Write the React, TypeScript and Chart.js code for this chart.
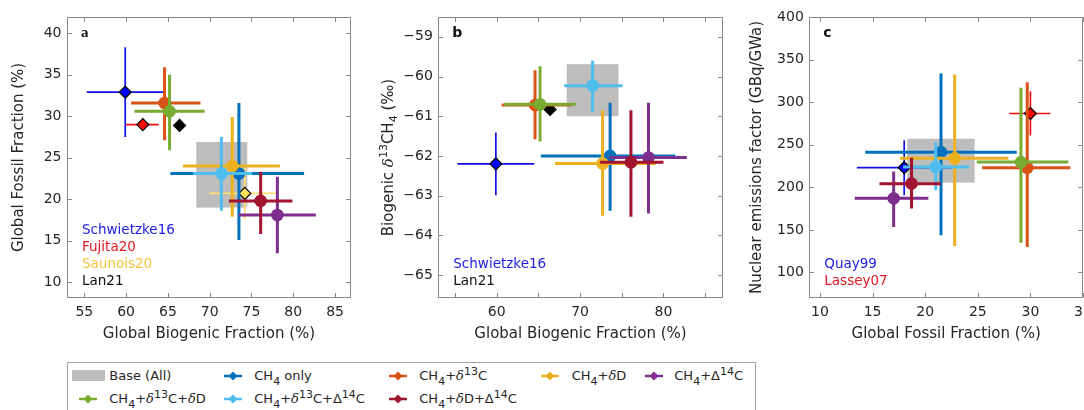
import React, { useEffect, useRef } from "react";
import { Chart, registerables } from "chart.js";

Chart.register(...registerables);

// ---------- shared series ----------
const seriesNames = ["CH4 only", "CH4+δ13C", "CH4+δD", "CH4+Δ14C", "CH4+δ13C+δD", "CH4+δ13C+Δ14C", "CH4+δD+Δ14C"];
const seriesColors = ["#0072BD", "#D95319", "#EDB120", "#7E2F8E", "#77AC30", "#4DBEEE", "#A2142F"];
const baseLabel = "Base (All)";
const baseColor = "#bdbdbd";

// ---------- panel a: biogenic (x) vs fossil (y) ----------
const aBio = [73.5, 64.6, 72.7, 78.1, 65.2, 71.4, 76.1];
const aBioLo = [65.3, 60.6, 66.8, 73.5, 61.0, 68.0, 72.3];
const aBioHi = [81.3, 68.9, 78.4, 82.7, 69.4, 75.1, 79.9];
const aFos = [23.1, 31.6, 24.0, 18.1, 30.6, 23.1, 19.8];
const aFosLo = [15.1, 27.1, 17.9, 13.5, 25.9, 18.6, 15.8];
const aFosHi = [31.6, 35.9, 29.9, 22.7, 35.0, 27.5, 23.3];
const aBase = [68.4, 74.5, 19.0, 26.9];
const aRefNames = ["Schwietzke16", "Fujita20", "Saunois20", "Lan21"];
const aRefText = ["#1d1de0", "#e0161e", "#f4c640", "#111111"];
const aRefFill = ["#0000ff", "#ff0000", "#ffe258", "#000000"];
const aRefBar = ["#1010e8", "#f01010", "#ffe070", "#000000"];
const aRefBio = [59.9, 62.0, 74.2, 66.4];
const aRefBioLo = [55.3, 60.0, 70.0, 66.4];
const aRefBioHi = [64.5, 63.9, 78.0, 66.4];
const aRefFos = [32.9, 29.0, 20.7, 28.9];
const aRefFosLo = [27.5, 28.4, 17.6, 28.9];
const aRefFosHi = [38.3, 29.7, 23.8, 28.9];
const aXTicks = [55, 60, 65, 70, 75, 80, 85];
const aXTickLabels = ["55", "60", "65", "70", "75", "80", "85"];
const aYTicks = [10, 15, 20, 25, 30, 35, 40];
const aYTickLabels = ["10", "15", "20", "25", "30", "35", "40"];

// ---------- panel b: biogenic (x) vs biogenic d13C (y) ----------
const bBio = [73.6, 64.6, 72.7, 78.2, 65.2, 71.5, 76.1];
const bBioLo = [65.3, 60.6, 67.0, 73.5, 60.9, 68.1, 72.4];
const bBioHi = [81.4, 68.9, 79.1, 82.8, 69.5, 75.1, 80.0];
const bD13 = [-62.0, -60.72, -62.19, -62.04, -60.7, -60.23, -62.16];
const bD13Lo = [-63.38, -61.58, -63.51, -63.45, -61.64, -60.89, -63.53];
const bD13Hi = [-60.66, -59.84, -60.85, -60.66, -59.74, -59.6, -60.85];
const bBase = [68.4, 74.6, -61.0, -59.69];
const bRefNames = ["Schwietzke16", "Lan21"];
const bRefText = ["#1d1de0", "#111111"];
const bRefFill = ["#0000ff", "#000000"];
const bRefBar = ["#1010e8", "#000000"];
const bRefBio = [59.9, 66.4];
const bRefBioLo = [55.3, 66.4];
const bRefBioHi = [64.5, 66.4];
const bRefD13 = [-62.2, -60.83];
const bRefD13Lo = [-62.99, -60.83];
const bRefD13Hi = [-61.41, -60.83];
const bXTicks = [55, 60, 65, 70, 75, 80, 85];
const bXTickLabels = ["", "60", "", "70", "", "80", ""];
const bYTicks = [-65, -64, -63, -62, -61, -60, -59];
const bYTickLabels = ["−65", "−64", "−63", "−62", "−61", "−60", "−59"];
// y title pieces: [text, style] where style: n normal, i italic, sup, sub
const bYTitleParts: [string, string][] = [["Biogenic ", "n"], ["δ", "i"], ["13", "sup"], ["CH", "n"], ["4", "sub"], [" (‰)", "n"]];

// ---------- panel c: fossil (x) vs nuclear emissions factor (y) ----------
const cFos = [21.5, 29.7, 22.8, 17.0, 29.1, 21.0, 18.7];
const cFosLo = [14.3, 25.4, 17.6, 13.3, 24.9, 17.9, 15.65];
const cFosHi = [28.7, 33.8, 27.9, 20.3, 33.6, 24.2, 21.5];
const cNuc = [241.3, 223, 234, 187, 229.6, 223.8, 204.3];
const cNucLo = [143.7, 130, 131, 153.4, 135, 196.4, 175];
const cNucHi = [333.6, 323.4, 332.4, 218.7, 316.8, 253, 234.7];
const cBase = [18.3, 24.7, 205.5, 257];
const cRefNames = ["Quay99", "Lassey07"];
const cRefText = ["#1d1de0", "#e0161e"];
const cRefFill = ["#0000ff", "#ff0000"];
const cRefBar = ["#1010e8", "#f01010"];
const cRefFos = [18.0, 30.0];
const cRefFosLo = [13.5, 28.0];
const cRefFosHi = [22.5, 31.9];
const cRefNuc = [223, 286.7];
const cRefNucLo = [190.6, 260.9];
const cRefNucHi = [255.4, 312.8];
const cXTicks = [10, 15, 20, 25, 30, 35];
const cXTickLabels = ["10", "15", "20", "25", "30", "35"];
const cYTicks = [100, 150, 200, 250, 300, 350, 400];
const cYTickLabels = ["100", "150", "200", "250", "300", "350", "400"];

const FONT = '"DejaVu Sans", sans-serif';
const TEXT = "#262626";
const FRAME = "#8a8a8a";

interface Panel {
  left: number; width: number; axisW: number; rightPad: number;
  xMin: number; xMax: number; yMin: number; yMax: number;
  xTicks: number[]; xTickLabels: string[]; yTicks: number[]; yTickLabels: string[];
  xTitle: string; yTitle: string; yTitlePad: number; yTitleParts?: [string, string][];
  mx: number[]; mxLo: number[]; mxHi: number[]; my: number[]; myLo: number[]; myHi: number[];
  rx: number[]; rxLo: number[]; rxHi: number[]; ry: number[]; ryLo: number[]; ryHi: number[];
  rNames: string[]; rText: string[]; rFill: string[]; rBar: string[];
  base: number[]; letter: string; letterFont: string;
}

const panels: Panel[] = [
  {
    left: 0, width: 360, axisW: 67, rightPad: 9,
    xMin: 52.93, xMax: 86.91, yMin: 8.1, yMax: 41.96,
    xTicks: aXTicks, xTickLabels: aXTickLabels, yTicks: aYTicks, yTickLabels: aYTickLabels,
    xTitle: "Global Biogenic Fraction (%)", yTitle: "Global Fossil Fraction (%)", yTitlePad: 10,
    mx: aBio, mxLo: aBioLo, mxHi: aBioHi, my: aFos, myLo: aFosLo, myHi: aFosHi,
    rx: aRefBio, rxLo: aRefBioLo, rxHi: aRefBioHi, ry: aRefFos, ryLo: aRefFosLo, ryHi: aRefFosHi,
    rNames: aRefNames, rText: aRefText, rFill: aRefFill, rBar: aRefBar,
    base: aBase, letter: "a", letterFont: 'bold 15px "Liberation Serif", serif',
  },
  {
    left: 360, width: 364, axisW: 78.3, rightPad: 1.3,
    xMin: 53, xMax: 87.1, yMin: -65.58, yMax: -58.5,
    xTicks: bXTicks, xTickLabels: bXTickLabels, yTicks: bYTicks, yTickLabels: bYTickLabels,
    xTitle: "Global Biogenic Fraction (%)", yTitle: "Biogenic δ13CH4 (‰)", yTitlePad: 20,
    yTitleParts: bYTitleParts,
    mx: bBio, mxLo: bBioLo, mxHi: bBioHi, my: bD13, myLo: bD13Lo, myHi: bD13Hi,
    rx: bRefBio, rxLo: bRefBioLo, rxHi: bRefBioHi, ry: bRefD13, ryLo: bRefD13Lo, ryHi: bRefD13Hi,
    rNames: bRefNames, rText: bRefText, rFill: bRefFill, rBar: bRefBar,
    base: bBase, letter: "b", letterFont: 'bold 14px "DejaVu Sans", sans-serif',
  },
  {
    left: 724, width: 360, axisW: 85.3, rightPad: 1,
    xMin: 8.98, xMax: 35, yMin: 70, yMax: 400,
    xTicks: cXTicks, xTickLabels: cXTickLabels, yTicks: cYTicks, yTickLabels: cYTickLabels,
    xTitle: "Global Fossil Fraction (%)", yTitle: "Nuclear emissions factor (GBq/GWa)", yTitlePad: 24.5,
    mx: cFos, mxLo: cFosLo, mxHi: cFosHi, my: cNuc, myLo: cNucLo, myHi: cNucHi,
    rx: cRefFos, rxLo: cRefFosLo, rxHi: cRefFosHi, ry: cRefNuc, ryLo: cRefNucLo, ryHi: cRefNucHi,
    rNames: cRefNames, rText: cRefText, rFill: cRefFill, rBar: cRefBar,
    base: cBase, letter: "c", letterFont: 'bold 14px "DejaVu Sans", sans-serif',
  },
];

const errorBarPlugin = {
  id: "errbars",
  beforeDatasetDraw(chart: any, args: any) {
    const ds: any = chart.data.datasets[args.index];
    if (!ds.err) return;
    const { ctx } = chart;
    const xs = chart.scales.x, ys = chart.scales.y;
    ctx.save();
    ctx.strokeStyle = ds.errColor;
    ctx.lineWidth = ds.errWidth;
    ctx.lineCap = "butt";
    ds.data.forEach((p: any, i: number) => {
      const [xl, xh, yl, yh] = ds.err[i];
      const px = xs.getPixelForValue(p.x), py = ys.getPixelForValue(p.y);
      ctx.beginPath();
      if (xl !== xh) { ctx.moveTo(xs.getPixelForValue(xl), py); ctx.lineTo(xs.getPixelForValue(xh), py); }
      if (yl !== yh) { ctx.moveTo(px, ys.getPixelForValue(yl)); ctx.lineTo(px, ys.getPixelForValue(yh)); }
      ctx.stroke();
    });
    ctx.restore();
  },
};

function partFont(style: string) {
  if (style === "i") return `italic 15px "DejaVu Serif", serif`;
  if (style === "sup" || style === "sub") return `11px ${FONT}`;
  return `15px ${FONT}`;
}

function framePlugin(p: Panel) {
  return {
    id: "frame",
    beforeDatasetsDraw(chart: any) {
      const { ctx, chartArea: ca } = chart;
      const xs = chart.scales.x, ys = chart.scales.y;
      ctx.save();
      const bx0 = xs.getPixelForValue(p.base[0]), bx1 = xs.getPixelForValue(p.base[1]);
      const by0 = ys.getPixelForValue(p.base[2]), by1 = ys.getPixelForValue(p.base[3]);
      ctx.fillStyle = baseColor;
      ctx.fillRect(bx0, by1, bx1 - bx0, by0 - by1);
      ctx.strokeStyle = FRAME;
      ctx.lineWidth = 1;
      const L = Math.round(ca.left) + 0.5, R = Math.round(ca.right) - 0.5;
      const T = Math.round(ca.top) + 0.5, B = Math.round(ca.bottom) - 0.5;
      ctx.strokeRect(L, T, R - L, B - T);
      const tl = 4.5;
      ctx.beginPath();
      xs.ticks.forEach((t: any) => {
        const x = Math.round(xs.getPixelForValue(t.value)) + 0.5;
        ctx.moveTo(x, B); ctx.lineTo(x, B - tl);
        ctx.moveTo(x, T); ctx.lineTo(x, T + tl);
      });
      ys.ticks.forEach((t: any) => {
        const y = Math.round(ys.getPixelForValue(t.value)) + 0.5;
        ctx.moveTo(L, y); ctx.lineTo(L + tl, y);
        ctx.moveTo(R, y); ctx.lineTo(R - tl, y);
      });
      ctx.stroke();
      ctx.restore();
    },
    afterDatasetsDraw(chart: any) {
      const { ctx, chartArea: ca } = chart;
      ctx.save();
      ctx.textBaseline = "middle";
      ctx.textAlign = "left";
      ctx.fillStyle = "#111";
      ctx.font = p.letterFont;
      ctx.fillText(p.letter, ca.left + 14, ca.top + 16);
      ctx.font = `13.5px ${FONT}`;
      const n = p.rNames.length;
      p.rNames.forEach((name, i) => {
        ctx.fillStyle = p.rText[i];
        ctx.fillText(name, ca.left + 15, ca.bottom - 17 - (n - 1 - i) * 16.7);
      });
      ctx.restore();
      // rich rotated y title
      if (p.yTitleParts) {
        ctx.save();
        let total = 0;
        const widths = p.yTitleParts.map(([t, st]) => {
          ctx.font = partFont(st);
          const w = ctx.measureText(t).width;
          total += w;
          return w;
        });
        const cx = 9 + p.yTitlePad;
        const cy = (ca.top + ca.bottom) / 2;
        ctx.translate(cx, cy);
        ctx.rotate(-Math.PI / 2);
        ctx.fillStyle = TEXT;
        ctx.textBaseline = "middle";
        ctx.textAlign = "left";
        let x = -total / 2;
        p.yTitleParts.forEach(([t, st], i) => {
          ctx.font = partFont(st);
          const dy = st === "sup" ? -5 : st === "sub" ? 5 : 0;
          ctx.fillText(t, x, dy);
          x += widths[i];
        });
        ctx.restore();
      }
    },
  };
}

function buildConfig(p: Panel): any {
  const datasets: any[] = [];
  p.rNames.forEach((name, i) => {
    datasets.push({
      label: name,
      data: [{ x: p.rx[i], y: p.ry[i] }],
      pointStyle: "rectRot",
      pointRadius: 6,
      pointHoverRadius: 6,
      pointBackgroundColor: p.rFill[i],
      pointBorderColor: "#000",
      pointBorderWidth: 1.2,
      showLine: false,
      err: [[p.rxLo[i], p.rxHi[i], p.ryLo[i], p.ryHi[i]]],
      errColor: p.rBar[i],
      errWidth: 1.7,
    });
  });
  seriesNames.forEach((name, i) => {
    datasets.push({
      label: name,
      data: [{ x: p.mx[i], y: p.my[i] }],
      pointStyle: "circle",
      pointRadius: 6.3,
      pointHoverRadius: 6.3,
      pointBackgroundColor: seriesColors[i],
      pointBorderWidth: 0,
      showLine: false,
      err: [[p.mxLo[i], p.mxHi[i], p.myLo[i], p.myHi[i]]],
      errColor: seriesColors[i],
      errWidth: 3,
    });
  });
  datasets.forEach((d, i) => (d.order = datasets.length - i));

  const tickFont = { family: FONT, size: 14 };
  const titleFont = { family: FONT, size: 15 };
  return {
    type: "scatter",
    data: { datasets },
    options: {
      animation: false,
      responsive: false,
      events: [],
      layout: { autoPadding: false, padding: { left: 0, right: p.rightPad, top: 17, bottom: 0 } },
      plugins: { legend: { display: false }, tooltip: { enabled: false } },
      scales: {
        x: {
          type: "linear",
          min: p.xMin,
          max: p.xMax,
          afterBuildTicks: (s: any) => { s.ticks = p.xTicks.map((v) => ({ value: v })); },
          afterFit: (s: any) => { s.height = 52; s.paddingLeft = 0; s.paddingRight = 0; },
          grid: { display: false, drawTicks: false },
          border: { display: false },
          ticks: {
            font: tickFont, color: TEXT, padding: 6, maxRotation: 0, autoSkip: false,
            callback: (_v: any, i: number) => p.xTickLabels[i],
          },
          title: { display: true, text: p.xTitle, font: titleFont, color: TEXT, padding: { top: 0, bottom: 7 } },
        },
        y: {
          type: "linear",
          min: p.yMin,
          max: p.yMax,
          afterBuildTicks: (s: any) => { s.ticks = p.yTicks.map((v) => ({ value: v })); },
          afterFit: (s: any) => { s.width = p.axisW; s.paddingTop = 0; s.paddingBottom = 0; },
          grid: { display: false, drawTicks: false },
          border: { display: false },
          ticks: {
            font: tickFont, color: TEXT, padding: 5.5, autoSkip: false,
            callback: (_v: any, i: number) => p.yTickLabels[i],
          },
          title: {
            display: !p.yTitleParts, text: p.yTitle, font: titleFont, color: TEXT,
            padding: { top: p.yTitlePad, bottom: 0 },
          },
        },
      },
    },
    plugins: [errorBarPlugin, framePlugin(p)],
  };
}

function PanelChart({ p }: { p: Panel }) {
  const ref = useRef<HTMLCanvasElement | null>(null);
  useEffect(() => {
    if (!ref.current) return;
    const chart = new Chart(ref.current, buildConfig(p));
    return () => chart.destroy();
  }, [p]);
  return (
    <canvas
      ref={ref}
      width={p.width}
      height={350}
      style={{ position: "absolute", left: p.left, top: 0, width: p.width, height: 350 }}
    />
  );
}

function rich(label: string) {
  const parts = label.split(/(CH4|δ13|Δ14|δ)/).filter(Boolean);
  const sub = { fontSize: 11, position: "relative" as const, top: 5 };
  const sup = { fontSize: 11, position: "relative" as const, top: -5 };
  return parts.map((s, k) => {
    if (s === "CH4") return <span key={k}>CH<span style={sub}>4</span></span>;
    if (s === "δ13") return <span key={k}><i style={{ fontFamily: '"DejaVu Serif", serif' }}>δ</i><span style={sup}>13</span></span>;
    if (s === "Δ14") return <span key={k}>Δ<span style={sup}>14</span></span>;
    if (s === "δ") return <i key={k} style={{ fontFamily: '"DejaVu Serif", serif' }}>δ</i>;
    return <span key={k}>{s}</span>;
  });
}

const legendCols = [
  { marker: 21.3, text: 42.3 },
  { marker: 166.3, text: 187.3 },
  { marker: 331.3, text: 352.3 },
  { marker: 483, text: 504.7 },
  { marker: 587.3, text: 607.3 },
];
const legendRows = [13.7, 37.3];

function Marker({ color }: { color: string }) {
  return (
    <svg width={20} height={12} style={{ display: "block" }}>
      <line x1={1} y1={6} x2={19} y2={6} stroke={color} strokeWidth={2.5} />
      <polygon points="10,1.5 14.5,6 10,10.5 5.5,6" fill={color} />
    </svg>
  );
}

function Legend() {
  const items = [{ name: baseLabel, color: baseColor, isBase: true }].concat(
    seriesNames.map((n, i) => ({ name: n, color: seriesColors[i], isBase: false }))
  );
  return (
    <div
      style={{
        position: "absolute", left: 67, top: 362, width: 689, height: 70,
        border: "1px solid #a3a3a3", boxSizing: "border-box", background: "#fff",
        fontFamily: FONT, fontSize: 13, color: TEXT,
      }}
    >
      {items.map((it, idx) => {
        const row = idx < 5 ? 0 : 1;
        const col = idx < 5 ? idx : idx - 5;
        const cy = legendRows[row] - 1;
        const c = legendCols[col];
        return (
          <React.Fragment key={idx}>
            {it.isBase ? (
              <div style={{ position: "absolute", left: 4.7 - 1, top: cy - 6, width: 33.3, height: 11.7, background: it.color }} />
            ) : (
              <div style={{ position: "absolute", left: c.marker - 10 - 1, top: cy - 6 }}>
                <Marker color={it.color} />
              </div>
            )}
            <div style={{ position: "absolute", left: c.text - 1, top: cy - 9, lineHeight: "18px", whiteSpace: "nowrap" }}>
              {rich(it.name)}
            </div>
          </React.Fragment>
        );
      })}
    </div>
  );
}

export default function App() {
  return (
    <div style={{ position: "fixed", left: 0, top: 0, width: 1084, height: 410, overflow: "hidden", background: "#fff" }}>
      {panels.map((p, i) => (
        <PanelChart key={i} p={p} />
      ))}
      <Legend />
    </div>
  );
}
